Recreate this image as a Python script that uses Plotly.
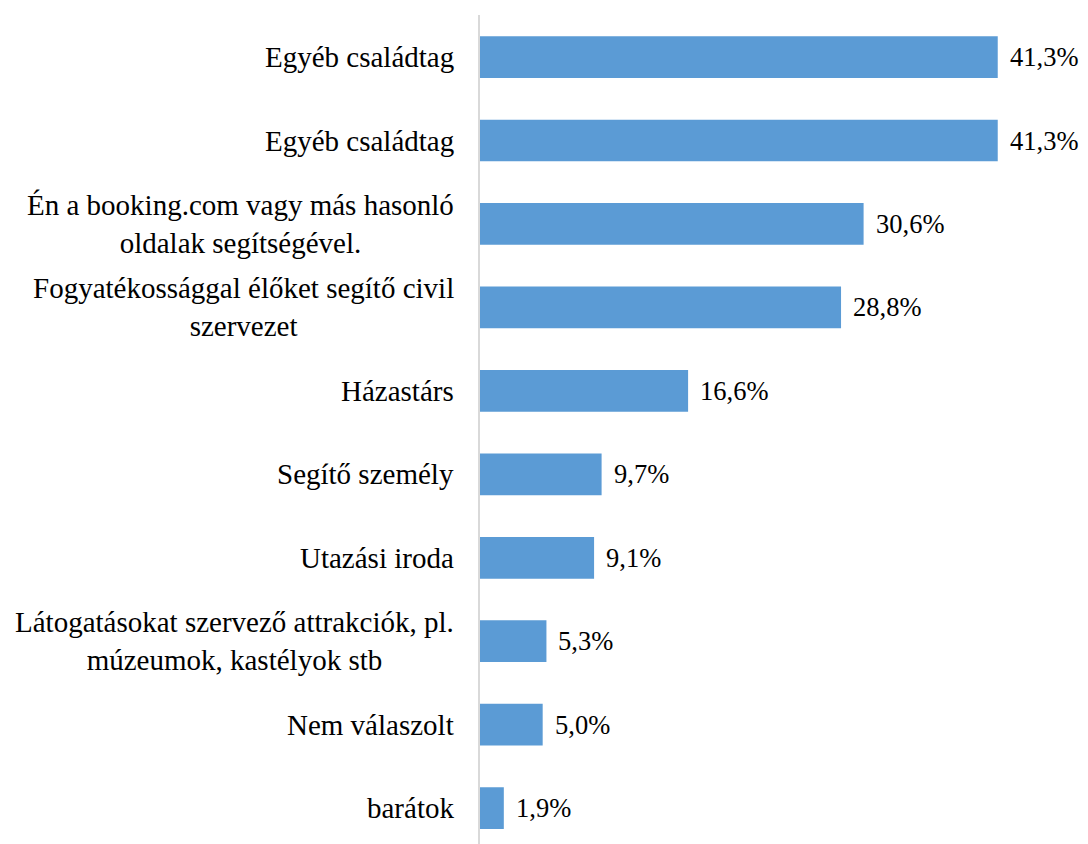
import plotly.graph_objects as go

categories = [
    "Egyéb családtag",
    "Egyéb családtag",
    "Én a booking.com vagy más hasonló<br>oldalak segítségével.",
    "Fogyatékossággal élőket segítő civil<br>szervezet",
    "Házastárs",
    "Segítő személy",
    "Utazási iroda",
    "Látogatásokat szervező attrakciók, pl.<br>múzeumok, kastélyok stb",
    "Nem válaszolt",
    "barátok",
]
values = [41.3, 41.3, 30.6, 28.8, 16.6, 9.7, 9.1, 5.3, 5.0, 1.9]
value_labels = [f"{v:.1f}".replace(".", ",") + "%" for v in values]

positions = list(range(len(categories)))
FONT = "Liberation Serif"
BAR_COLOR = "#5B9BD5"
CAT_SIZE = 29
VAL_SIZE = 26.5

fig = go.Figure()
fig.add_trace(go.Bar(
    x=values, y=positions, orientation="h",
    marker=dict(color=BAR_COLOR, line=dict(width=0)),
    width=0.5, hoverinfo="skip",
))

annotations = []
for p, cat in zip(positions, categories):
    annotations.append(dict(
        x=0, y=p, xref="paper", yref="y", text=cat, showarrow=False,
        xanchor="right", yanchor="middle", align="center", xshift=-24,
        font=dict(family=FONT, size=CAT_SIZE, color="#000000"),
    ))
for p, v, lab in zip(positions, values, value_labels):
    annotations.append(dict(
        x=v, y=p, xref="x", yref="y", text=lab, showarrow=False,
        xanchor="left", yanchor="middle", xshift=10,
        font=dict(family=FONT, size=VAL_SIZE, color="#000000"),
    ))

fig.update_layout(
    width=1080, height=836,
    margin=dict(l=472, r=0, t=7, b=0),
    paper_bgcolor="white", plot_bgcolor="white",
    font=dict(family=FONT),
    showlegend=False,
    annotations=annotations,
    xaxis=dict(range=[0, 48.5], showgrid=False, zeroline=False,
               showticklabels=False, ticks="", showline=False, fixedrange=True),
    yaxis=dict(range=[9.43, -0.504], showgrid=False, zeroline=False,
               showticklabels=False, ticks="", showline=True,
               linecolor="#D9D9D9", linewidth=2, fixedrange=True),
)

fig.write_html("out.html", config=dict(displayModeBar=False),
               post_script="document.body.style.overflow='hidden';")
